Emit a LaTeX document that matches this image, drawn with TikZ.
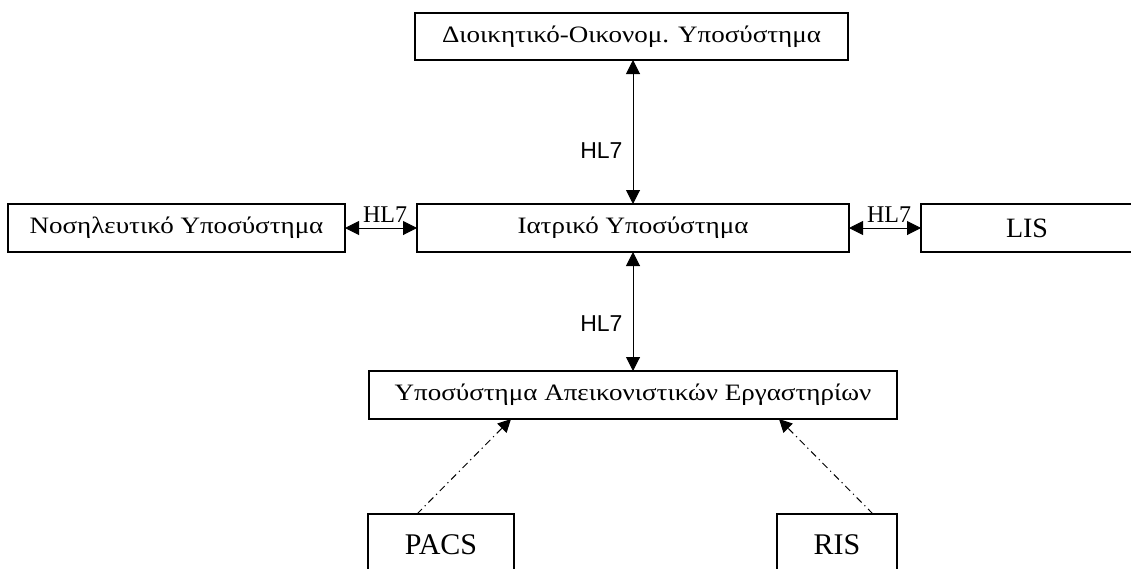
\documentclass[tikz,border=0pt]{standalone}
\usepackage{fontspec}
\setmainfont{Liberation Serif}
\newfontfamily\widegreek[FakeStretch=1.15]{Liberation Serif}
\newfontfamily\labelsans{Liberation Sans}
\usetikzlibrary{arrows.meta,calc}

\tikzset{
  sysbox/.style={draw, line width=1.3pt, inner sep=0pt, outer sep=0pt,
    font=\widegreek\fontsize{23.5}{27}\selectfont},
  bigbox/.style={sysbox, font=\fontsize{30}{34}\selectfont},
  link/.style={line width=1pt, {Triangle[length=14pt,width=14pt]}-{Triangle[length=14pt,width=14pt]}},
  feed/.style={line width=1pt, dash pattern=on 7pt off 4pt on 1.2pt off 4pt,
    -{Triangle[length=13pt,width=13pt]}},
  hlserif/.style={font=\fontsize{24}{28}\selectfont, inner sep=0pt},
  hlsans/.style={font=\labelsans\fontsize{23}{27}\selectfont, inner sep=0pt}
}

\begin{document}
\begin{tikzpicture}[x=1pt,y=-1pt]
\useasboundingbox (0,0) rectangle (1131,568);
\clip (0,0) rectangle (1131,568);

% subsystems
\node[sysbox, minimum width=433pt, minimum height=47pt] (admin) at (631.5,36.5)
  {Διοικητικό-Οικονομ. Υποσύστημα};
\node[sysbox, minimum width=432pt, minimum height=48pt] (med) at (633,228)
  {Ιατρικό Υποσύστημα};
\node[sysbox, minimum width=337pt, minimum height=48pt] (nurse) at (176.5,228)
  {Νοσηλευτικό Υποσύστημα};
\node[sysbox, minimum width=212pt, minimum height=48pt, font=\fontsize{28}{32}\selectfont] (lis) at (1027,228)
  {LIS};
\node[sysbox, minimum width=528pt, minimum height=48pt] (img) at (633,395)
  {Υποσύστημα Απεικονιστικών Εργαστηρίων};
\node[bigbox, minimum width=146pt, minimum height=62pt] (pacs) at (441,545) {PACS};
\node[bigbox, minimum width=120pt, minimum height=62pt] (ris) at (837,545) {RIS};

% HL7 interfaces
\draw[link] (med.north) -- (med.north |- admin.south)
  node[hlsans, anchor=east, pos=0.37, xshift=-10pt] {HL7};
\draw[link] (med.south) -- (med.south |- img.north)
  node[hlsans, anchor=east, pos=0.6, xshift=-10pt] {HL7};
\draw[link] (nurse.east) -- (med.west)
  node[hlserif, anchor=base, midway, xshift=4pt, yshift=6pt] {HL7};
\draw[link] (med.east) -- (lis.west)
  node[hlserif, anchor=base, midway, xshift=4pt, yshift=6pt] {HL7};

% image sources
\draw[feed] ($(pacs.north west)+(49,0)$) -- ($(img.south west)+(142,0)$);
\draw[feed] ($(ris.north west)+(96,0)$) -- ($(img.south west)+(410,0)$);
\end{tikzpicture}
\end{document}
